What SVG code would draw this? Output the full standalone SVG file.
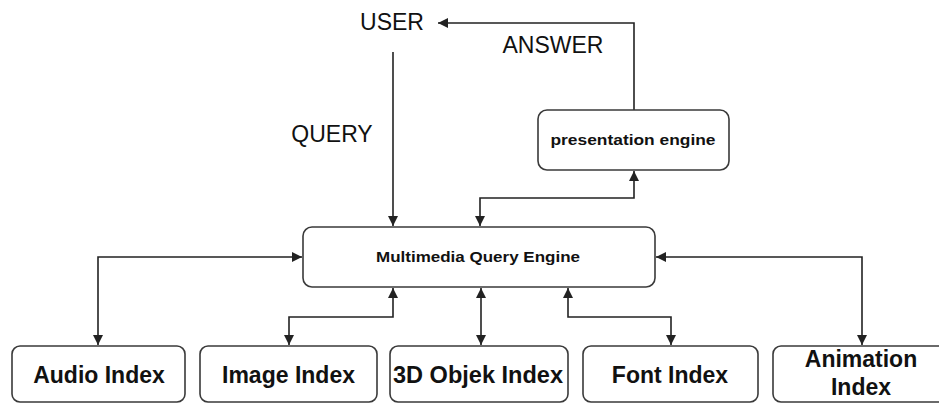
<svg xmlns="http://www.w3.org/2000/svg" width="939" height="403" viewBox="0 0 939 403">
  <style>
    .box { fill: #ffffff; stroke: #3a3a3a; stroke-width: 1.6; }
    .wire { fill: none; stroke: #222222; stroke-width: 1.6; }
    .lbl { font-family: "Liberation Sans", Arial, sans-serif; fill: #111111; text-anchor: middle; }
    .big { font-size: 23px; }
    .idx { font-size: 23px; font-weight: bold; }
    .small { font-size: 15px; font-weight: bold; }
  </style>
  <defs>
    <marker id="arrow" viewBox="0 0 10 10" refX="10" refY="5" markerWidth="6.5" markerHeight="6.5" orient="auto-start-reverse" markerUnits="strokeWidth">
      <path d="M0,0 L10,5 L0,10 Z" fill="#222222"/>
    </marker>
  </defs>
  <rect width="939" height="403" fill="#ffffff"/>

  <!-- connectors -->
  <g id="connectors">
    <!-- query: user down to engine -->
    <path class="wire" d="M393,52 V226" marker-end="url(#arrow)"/>
    <!-- answer: presentation engine up and back to user -->
    <path class="wire" d="M634,110 V23 H438" marker-end="url(#arrow)"/>
    <!-- engine <-> presentation engine -->
    <path class="wire" d="M480,226 V198 H634 V171" marker-start="url(#arrow)" marker-end="url(#arrow)"/>
    <!-- engine <-> audio -->
    <path class="wire" d="M302,257 H98 V345" marker-start="url(#arrow)" marker-end="url(#arrow)"/>
    <!-- engine <-> image -->
    <path class="wire" d="M393,288 V317 H289 V345" marker-start="url(#arrow)" marker-end="url(#arrow)"/>
    <!-- engine <-> 3D objek -->
    <path class="wire" d="M481,288 V345" marker-start="url(#arrow)" marker-end="url(#arrow)"/>
    <!-- engine <-> font -->
    <path class="wire" d="M568,288 V317 H671 V345" marker-start="url(#arrow)" marker-end="url(#arrow)"/>
    <!-- engine <-> animation -->
    <path class="wire" d="M656,257 H862 V345" marker-start="url(#arrow)" marker-end="url(#arrow)"/>
  </g>

  <g id="user">
    <text class="lbl big" x="392" y="30">USER</text>
  </g>
  <g id="answer-label">
    <text class="lbl big" x="553" y="53">ANSWER</text>
  </g>
  <g id="query-label">
    <text class="lbl big" x="332" y="142">QUERY</text>
  </g>

  <g id="presentation-engine">
    <rect class="box" x="538" y="110" width="191" height="60" rx="9"/>
    <text class="lbl small" x="633" y="145" textLength="165" lengthAdjust="spacingAndGlyphs">presentation engine</text>
  </g>

  <g id="query-engine">
    <rect class="box" x="303" y="227" width="352" height="60" rx="9"/>
    <text class="lbl small" x="478" y="262" textLength="204" lengthAdjust="spacingAndGlyphs">Multimedia Query Engine</text>
  </g>

  <g id="audio-index">
    <rect class="box" x="12" y="346" width="173" height="56" rx="8"/>
    <text class="lbl idx" x="99" y="383">Audio Index</text>
  </g>
  <g id="image-index">
    <rect class="box" x="200" y="346" width="177" height="56" rx="8"/>
    <text class="lbl idx" x="288.5" y="383">Image Index</text>
  </g>
  <g id="objek-index">
    <rect class="box" x="390" y="346" width="178" height="56" rx="8"/>
    <text class="lbl idx" x="478" y="383" textLength="170" lengthAdjust="spacingAndGlyphs">3D Objek Index</text>
  </g>
  <g id="font-index">
    <rect class="box" x="583" y="346" width="175" height="56" rx="8"/>
    <text class="lbl idx" x="670" y="383">Font Index</text>
  </g>
  <g id="animation-index">
    <rect class="box" x="773" y="346" width="180" height="56" rx="8"/>
    <text class="lbl idx" x="861" y="367">Animation</text>
    <text class="lbl idx" x="861" y="395">Index</text>
  </g>
</svg>
